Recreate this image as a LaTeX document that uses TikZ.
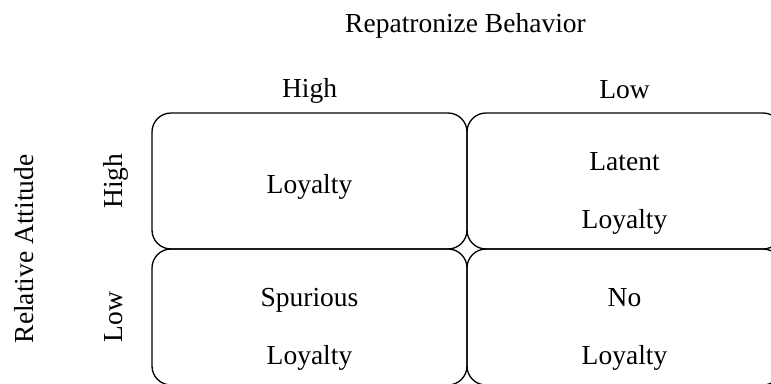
\documentclass[tikz,border=0pt]{standalone}
\usepackage{fontspec}
\setmainfont{Liberation Serif}
\usetikzlibrary{positioning}

\begin{document}
\begin{tikzpicture}[x=1pt, y=-1pt, node distance=0pt,
    cell/.style={draw, rounded corners=19pt, minimum width=315pt, minimum height=136pt, line width=1.3pt, inner sep=0pt, outer sep=0pt},
    txt/.style={font=\fontsize{27.5}{58}\selectfont, inner sep=0pt, align=center}]
    \useasboundingbox (0,0) rectangle (771,383);
    \clip (0,0) rectangle (771,383);

    % Cells
    \node[cell] (hh) at (309.5,181) {};
    \node[cell, right=of hh] (hl) {};
    \node[cell, below=of hh] (lh) {};
    \node[cell, right=of lh] (ll) {};

    % Cell texts
    \node[txt, anchor=base] (hhtext) at ([yshift=-80pt]hh.north) {Loyalty};
    \node[txt] (hltext) at ([yshift=-80pt]hl.north) {Latent\\Loyalty};
    \node[txt] (lhtext) at ([yshift=-80pt]lh.north) {Spurious\\Loyalty};
    \node[txt] (lltext) at ([yshift=-80pt]ll.north) {No\\Loyalty};

    % Axis labels
    \node[txt, anchor=base] (behavior) at (465.5,32) {Repatronize Behavior};
    \node[txt, anchor=base] (colhigh) at (hh.north |- 0,97) {High};
    \node[txt, anchor=base] (collow) at (hl.north |- 0,98) {Low};
    \node[txt, rotate=90, anchor=base] (attitude) at (33,249) {Relative Attitude};
    \node[txt, rotate=90, anchor=base] (rowhigh) at (122,0 |- hh.center) {High};
    \node[txt, rotate=90, anchor=base] (rowlow) at (122,0 |- lh.center) {Low};
\end{tikzpicture}
\end{document}
